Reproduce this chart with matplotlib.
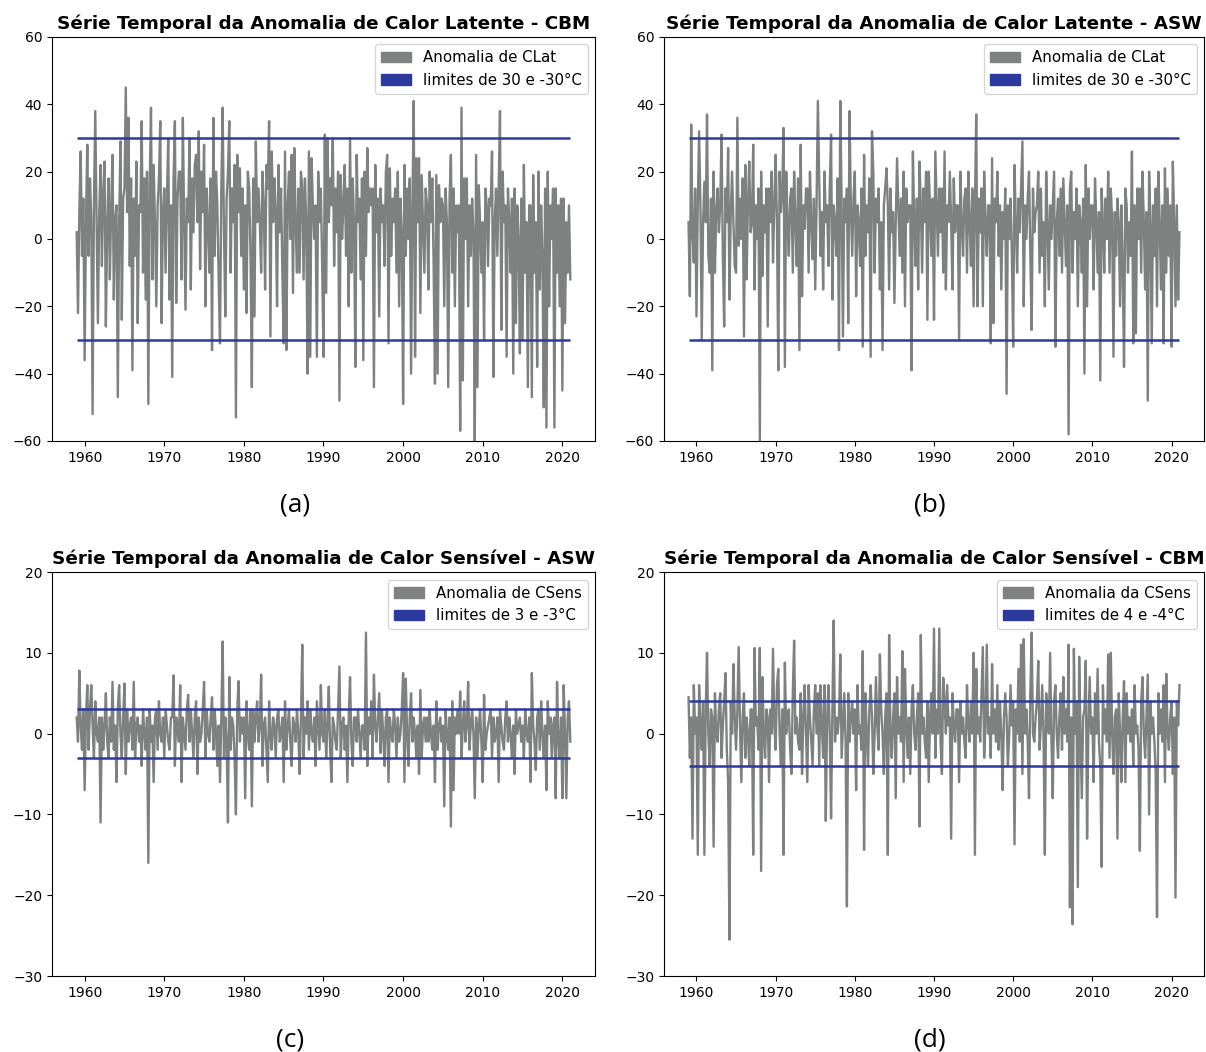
import matplotlib.pyplot as plt
import numpy as np
from matplotlib.patches import Patch

# anomaly values, 6 per year, one row per year (1959..2020) + end point 2021
clat_cbm = [
    2, -22, 8, 26, -5, 12,   -36, 5, 28, -5, 18, 6,   -52, 10, 38, 5, -25, 8,
    22, -8, 14, 23, -26, 4,   18, -12, 10, 25, -18, 6,   10, -47, 5, 29, -24, 12,
    15, 45, 8, 36, -8, 18,   -39, 12, -5, 23, -25, 10,   8, 35, -10, 18, -18, 20,
    -49, 15, 39, -12, 22, 5,   -20, 10, 18, 35, -25, 8,   15, -10, 12, 30, -18, 10,
    -41, 18, 35, -19, 12, 20,   20, -12, 36, 5, -21, 12,   5, 30, -15, 18, 2, 22,
    25, 5, 32, -9, 20, 8,   28, -20, 15, 5, -10, 18,   -33, 36, -5, 20, 10, -12,
    -31, 15, 39, 2, -23, 12,   20, 35, -10, 15, 5, 22,   -53, 25, 8, 21, -5, 15,
    -15, 10, -22, 20, 15, -5,   -44, 18, -23, 29, 5, 15,   5, -10, 20, 10, -15, 22,
    15, 35, -29, 26, 5, 18,   8, -20, 22, 2, 15, -10,   -31, 26, -33, 10, 20, 0,
    25, -16, 27, 5, -10, 15,   -10, 20, 15, -12, 18, 5,   -40, 26, -35, 24, 10, 0,
    10, -35, 20, 5, 15, -8,   -35, 31, -16, 30, 5, 18,   10, 30, -8, 15, 2, 20,
    -48, 19, 0, 10, 22, -5,   15, -20, 30, -10, 18, 5,   -38, 25, 5, 12, -12, 18,
    -36, 20, -5, 27, 8, 15,   10, 15, -44, 22, 2, 12,   -23, 15, 5, 10, -8, 20,
    25, -31, 21, -5, 12, 5,   15, -10, 20, -20, 12, 2,   -49, 22, -5, 15, 0, 18,
    -40, 10, 41, -35, 24, 5,   24, -22, 19, 5, -10, 15,   10, -15, 20, 5, 18, -8,
    -43, 19, -40, 16, 5, 12,   10, -20, 15, 5, -44, 12,   25, -10, 15, -20, 10, 2,
    10, -57, 39, -42, 18, 0,   18, -20, 10, -5, 12, 2,   -60, 25, -44, 16, 5, -10,
    5, -30, 15, 10, -8, 12,   10, 26, -41, 5, 15, -5,   15, 38, -27, 20, 5, 10,
    -35, 15, 5, -10, 12, -40,   15, -25, 10, 0, -34, 12,   -30, 22, -10, 5, -44, 10,
    10, -47, 19, -10, 5, -38,   20, -15, 10, -5, -50, 15,   -56, 20, -20, 10, 0, 15,
    -56, 15, -10, 10, -20, 12,   -45, 12, -25, 5, -10, 10,
    -12,
]

clat_asw = [
    5, -17, 34, 2, -7, 15,   -23, 10, 32, 10, -30, 5,   17, 5, 37, -5, -10, 12,
    -39, 20, -10, 8, 15, 2,   10, 31, -5, -26, 15, 5,   27, -18, 8, 20, 5, -8,
    -10, 36, -2, 12, 0, 18,   -29, 22, -12, 10, 23, 2,   5, 28, -15, 10, 0, 15,
    -60, 20, -11, 10, 2, 15,   -26, 15, 5, 20, -7, 10,   25, 5, -39, 20, 8, 15,
    33, -38, 20, 5, -5, 12,   15, -10, 20, 5, -8, 18,   -33, 28, -17, 10, 3, 15,
    15, -10, 20, 5, -6, 12,   -15, 10, 41, 17, -5, 8,   -15, 20, 5, 10, -8, 15,
    31, -18, 10, 5, -5, 18,   -33, 41, 10, -29, 12, 5,   15, -25, 38, 10, -5, 12,
    20, -17, 10, 5, -8, 15,   -32, 25, -5, 10, 2, 18,   -35, 32, 20, -10, 12, 5,
    15, -15, 5, -33, 10, 15,   21, 10, -15, 15, 2, 8,   -19, 5, 24, 10, -5, 12,
    -10, 20, -20, 15, 5, 10,   10, -39, 26, 5, -8, 12,   -15, 23, 10, -10, 15, 5,
    20, -24, 20, 10, -5, 12,   -24, 26, 10, -5, 15, 2,   15, -10, 26, -15, 10, 5,
    20, 5, -15, 18, 2, 10,   10, -30, 20, 5, -5, 12,   15, -10, 20, 5, -8, 15,
    -20, 10, 37, -20, 12, 2,   15, -20, 20, 5, -5, 10,   10, -31, 24, -25, 12, 5,
    20, -5, 10, -15, 8, 0,   15, -46, 10, 0, 12, -5,   -32, 22, 5, -10, 12, 2,
    15, 29, -20, 10, 0, 12,   20, -5, -27, 15, 2, 8,   10, 20, -10, 15, -5, 5,
    -20, 20, 5, -15, 10, 0,   10, 20, -32, 5, 12, -5,   15, -10, 18, 5, -8, 10,
    -58, 15, 20, -10, 8, 0,   15, -20, 10, 5, -10, 12,   -40, 22, -20, 15, 0, 10,
    10, -15, 18, 5, -10, 8,   -42, 15, 5, -10, 12, 0,   20, -10, 15, 5, -35, 8,
    -5, 12, 5, -20, 10, -8,   -38, 15, 10, -10, 5, -5,   26, -31, 10, -28, 15, 0,
    15, -10, 20, 5, -15, 8,   -48, 20, 5, -31, 10, -5,   15, -20, 20, 5, -15, 10,
    -31, 21, -10, 15, -5, 10,   -32, 23, 5, -20, 10, -18,
    2,
]

csens_asw = [
    2, -1, 7.8, 1, -2, 3,   -7, 2, 6, -2, 3, 6,   1, -3, 4, 0, -1, 2,
    -11, 2, -2, 1, 5, -1,   -3, 2, -1, 6.4, -2, 1,   -6, 3, 6, 0, -3, 2,
    6.2, -5, 3, -1, 1, 2,   -2, 6.4, -3, 1, 2, -1,   1, -4, 3, 0, -2, 2,
    -16, 3, -1, 1, -6, 2,   3, -2, 4, 0, -1, 2,   -3, 3, 1, -1, -2, 2,
    2, 7.2, -4, 2, 1, -1,   6, -6, 2, 0, -2, 3,   4.8, -1, 3, 0, -3, 2,
    4, -5, 2, -1, 0, 3,   6.4, -3, 3, 0, -1, 2,   4.5, -2, 3, 0, -4, 1,
    -6, 2, 11.4, -3, 2, -1,   -11, 7, -2, 2, 1, -3,   -10, 3, 6.5, -1, 2, 0,
    2, -8, 4, 0, -2, 3,   -9, 3, -1, 2, 4, -1,   1, 7.3, -4, 1, 2, -2,
    -6, 4, 0, -2, 2, 1,   -3, 2, 3, -1, 0, 2,   -6, 4, -2, 1, 3, -1,
    -4, 2, 1, -1, 3, 0,   -5, 2, 11, -3, 2, 0,   4, -2, 3, 0, -1, 2,
    -4, 4, 1, -2, 6, 0,   -1, 3, -3, 1, 5.8, -2,   -6, 2, 1, -1, -2, 3,
    8.3, -3, 1, 2, -2, 1,   -6, 2, 7, -1, -4, 2,   2, -1, 3, 0, -3, 1,
    1, -2, 12.5, -4, 2, 0,   4, -3, 7.3, 1, -1, 2,   5, -2.4, 3, 0, -4, 2,
    3, -6, 2, 0, -1, 3,   1, -3, 2, -1, 0, 3,   7.5, -6, 6.8, 0, -4, 2,
    5, -1, 2, 0, -3, 1,   -5, 5.4, -3, 1, 2, -1,   2, -1, 3, 0, -2, 1,
    -6, 4, -2, 1, 2, -1,   1, -9, 3, 0, -2, 2,   -11.5, 4, -7, 2, 0, 3,
    0, 5.2, -3, 1, 4, -1,   1, 6.4, -2, 1, 3, 0,   -8, 2, -3, 1, 3, -1,
    -6, 4.8, -2, 0, 1, 2,   3, -3, 2, -1, 0, 2,   -6, 3, 1, -1, -2, 2,
    4, -1, 2, 0, -3, 1,   -5, 3, 0, 1, 2, -1,   1, -3, 3, 0, -1, 2,
    -6, 7.5, 1, -1, -4.5, 2,   3, -2, 4, 0, -3, 1,   -7, 4, 0, 2, -3, 1,
    2, -8, 6.4, -1, -3, 2,   -8, 6, 0, -8, 2, 4,
    -1,
]

csens_cbm = [
    4.5, -3, 2, -13, 6, 0,   2, -15, 6, 1, -2, 4,   -15, 3, 10, 0, -4, 3,
    2, -14, 5, 0, -1, 3,   5, -3, 1, 4, 7.5, -2,   -6, -25.5, 4, 0, 8.6, 2,
    -2, 3, 10.7, 1, -6, 2,   5, -3, 2, 0, -4, 3,   3, -15, 10.6, 1, 2, -2,
    10.6, -17, 7, 0, -3, 3,   2, -6, 3, 0, 10.5, 1,   -2, 6, 8, 0, -4, 3,
    -15, 8.8, 0, 2, 3, -2,   -5, 5, 11.5, 0, 2, -1,   -2, 5, -5, 2, 6, 0,
    -6, 6, 2, -1, -4, 3,   6, 0, 5, -4, 6, 1,   -3, 6, -10.8, 2, 6, 0,
    -10.5, 3, 14, -1, 2, 0,   2, 9.8, -3, 1, 5, -1,   -21.4, 5, -1, 2, 4, 0,
    3, -7, 6, 0, 1, -2,   10.2, -14.4, 5, 0, -4, 3,   6, 2, -5, 0, 7, 1,
    -2, 9.8, 3, 0, -5, 2,   5, -15, 12.2, 0, -3, 2,   5, -8, 7, 0, 2, -1,
    10.2, -6, 8, 1, -3, 2,   -5, 3, 6, 0, -2, 2,   5, -11.5, 12.2, 0, 2, -1,
    -3, 4, -6, 2, 5, 0,   13, -3, 3, 0, 13, -1,   -5, 6.9, 4, 0, 6, 1,
    2, -13, 5, 1, -1, 3,   3, -6, 4, 0, 2, -1,   -3, 6, 1, -1, 4, 0,
    10, -15, 8, 0, 2, -1,   5, 10.7, -3, 1, 11, 0,   2, -3, 8.6, 0, 3, -1,
    6, -2, 4, 0, -7, 2,   5, 2, -4, 0, 6, 1,   4, -13.7, 3, 0, 8, -1,
    11, -5, 11.7, 0, 3, -1,   -8, 5, 12.5, 0, -1, 2,   4, 9, -2, 1, 6, 0,
    -15, 5, 2, 0, 10, -1,   -8, 4, 6, 0, -3, 2,   5, -2, 7, 0, 3, -1,
    11, -21.5, 2, -23.6, 10.5, 0,   4, -19, 9.5, 0, -8, 2,   3, 9, -13, 1, 7, 0,
    2, -6, 5, 0, 8, -1,   -4, -16.5, 6, 0, 3, -1,   9.8, -3, 10, 0, -5, 2,
    3, -13, 5, 0, -6, 2,   6.5, -6, 5, 0, 2, -1,   3, -4, 6, 0, 1, -2,
    -14.5, 4, 7, 0, -3, 2,   7.3, -10, 4, 0, 2, -1,   -5, -22.7, 5, 0, 3, -1,
    6, -6, 7.4, 0, -2, 2,   4, -5, 2, -20.3, 4, 1,
    6,
]

titles = [
    'Série Temporal da Anomalia de Calor Latente - CBM',
    'Série Temporal da Anomalia de Calor Latente - ASW',
    'Série Temporal da Anomalia de Calor Sensível - ASW',
    'Série Temporal da Anomalia de Calor Sensível - CBM',
]
series_labels = ['Anomalia de CLat', 'Anomalia de CLat', 'Anomalia de CSens', 'Anomalia da CSens']
limit_labels = ['limites de 30 e -30°C', 'limites de 30 e -30°C', 'limites de 3 e -3°C', 'limites de 4 e -4°C']
limits = [30, 30, 3, 4]
ylims = [(-60, 60), (-60, 60), (-30, 20), (-30, 20)]
yticks = [np.arange(-60, 61, 20), np.arange(-60, 61, 20), np.arange(-30, 21, 10), np.arange(-30, 21, 10)]
panel_tags = ['(a)', '(b)', '(c)', '(d)']

gray = '#7f8080'
blue = '#2b3a9c'

W, H = 1206, 1052
fig = plt.figure(figsize=(W / 100, H / 100), dpi=100)

boxes = [
    (52, 37, 595, 441),
    (664, 37, 1204, 441),
    (52, 572, 595, 976),
    (664, 572, 1204, 976),
]
tag_pos = [(295, 505), (930, 505), (290, 1040), (930, 1040)]

all_series = [clat_cbm, clat_asw, csens_asw, csens_cbm]

for i, vals in enumerate(all_series):
    l, t, r, b = boxes[i]
    ax = fig.add_axes([l / W, 1 - b / H, (r - l) / W, (b - t) / H])
    vals = np.array(vals, dtype=float)
    x = 1959 + np.arange(len(vals)) / 6.0
    ax.plot(x, vals, color=gray, lw=1.7)
    ax.hlines([limits[i], -limits[i]], x[0], x[-1], color=blue, lw=1.8)
    ax.set_ylim(*ylims[i])
    ax.set_yticks(yticks[i])
    ax.set_xticks(np.arange(1960, 2021, 10))
    ax.tick_params(labelsize=10)
    ax.set_title(titles[i], fontsize=13.2, fontweight='bold')
    handles = [Patch(color=gray, label=series_labels[i]), Patch(color=blue, label=limit_labels[i])]
    ax.legend(handles=handles, loc='upper right', fontsize=10.8)
    fig.text(tag_pos[i][0] / W, 1 - tag_pos[i][1] / H, panel_tags[i], fontsize=19,
             family='Open Sans', ha='center', va='center')

fig.savefig('out.png', dpi=100)
